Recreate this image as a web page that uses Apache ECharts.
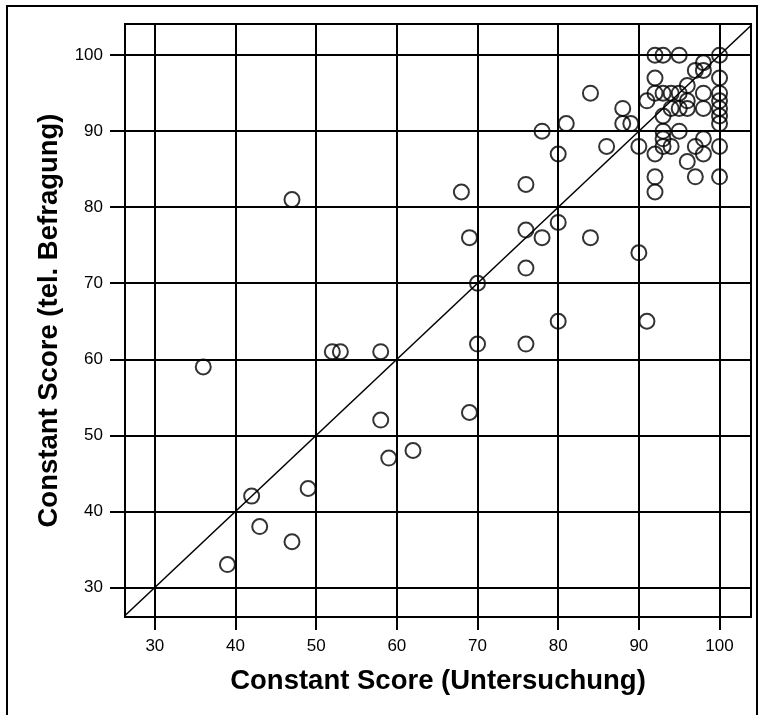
<!DOCTYPE html>
<html>
<head>
<meta charset="utf-8">
<script src="https://cdn.jsdelivr.net/npm/echarts@6/dist/echarts.min.js"></script>
<style>
  html, body { margin: 0; padding: 0; background: #fff; }
  #chart { width: 760px; height: 715px; }
</style>
</head>
<body>
<div id="chart"></div>
<script>
// Constant Score measured at examination (x) vs. by telephone interview (y)
const untersuchung = [
  36, 39, 42, 43, 47, 47, 49, 52, 53, 58, 58, 59, 62,
  68, 69, 69, 70, 70, 76, 76, 76, 76, 78, 78, 80, 80, 80,
  81, 84, 84, 86, 88, 88, 89, 90, 90, 91,
  92, 93, 95, 100, 98, 97, 98, 92, 100, 96,
  92, 93, 94, 95, 98, 100,
  91, 96, 100,
  94, 95, 96, 98, 100,
  93, 100, 100,
  93, 95, 93, 98, 93, 94, 97, 100,
  92, 98, 96,
  92, 97, 100, 92
];
const befragung = [
  59, 33, 42, 38, 36, 81, 43, 61, 61, 61, 52, 47, 48,
  82, 76, 53, 70, 62, 83, 77, 72, 62, 90, 76, 87, 78, 65,
  91, 95, 76, 88, 93, 91, 91, 88, 74, 65,
  100, 100, 100, 100, 99, 98, 98, 97, 97, 96,
  95, 95, 95, 95, 95, 95,
  94, 94, 94,
  93, 93, 93, 93, 93,
  92, 92, 91,
  90, 90, 89, 89, 88, 88, 88, 88,
  87, 87, 86,
  84, 84, 84, 82
];
const tickValues = [30, 40, 50, 60, 70, 80, 90, 100];
const xRange = [26.3, 103.9];
const yRange = [26.1, 104.1];
const identityLine = [26, 104];

const chart = echarts.init(document.getElementById('chart'), null, { renderer: 'canvas' });
const font = 'Liberation Sans, Arial, Helvetica, sans-serif';

const option = {
  animation: false,
  backgroundColor: '#ffffff',
  textStyle: { fontFamily: font, color: '#000' },
  graphic: [{
    type: 'rect',
    silent: true,
    shape: { x: 7, y: 6, width: 750, height: 800 },
    style: { fill: 'none', stroke: '#000', lineWidth: 2 }
  }],
  grid: {
    left: 125, right: 9, top: 24, bottom: 98,
    show: true, borderColor: '#000', borderWidth: 2, backgroundColor: 'transparent'
  },
  xAxis: {
    type: 'value', min: xRange[0], max: xRange[1], splitNumber: 8,
    name: 'Constant Score (Untersuchung)', nameLocation: 'middle', nameGap: 50,
    nameTextStyle: { fontSize: 27.5, fontWeight: 'bold', color: '#000', fontFamily: font },
    axisLine: { show: true, onZero: false, lineStyle: { color: '#000', width: 2 } },
    axisTick: { show: true, length: 13, lineStyle: { color: '#000', width: 2 }, customValues: tickValues },
    axisLabel: { fontSize: 17, color: '#000', margin: 21, fontFamily: font, customValues: tickValues },
    splitLine: { show: true, lineStyle: { color: '#000', width: 2 } }
  },
  yAxis: {
    type: 'value', min: yRange[0], max: yRange[1], splitNumber: 8,
    name: 'Constant Score (tel. Befragung)', nameLocation: 'middle', nameGap: 61,
    nameTextStyle: { fontSize: 27.5, fontWeight: 'bold', color: '#000', fontFamily: font },
    axisLine: { show: true, onZero: false, lineStyle: { color: '#000', width: 2 } },
    axisTick: { show: true, length: 15, lineStyle: { color: '#000', width: 2 }, customValues: tickValues },
    axisLabel: { fontSize: 17, color: '#000', margin: 22, fontFamily: font, customValues: tickValues },
    splitLine: { show: true, lineStyle: { color: '#000', width: 2 } }
  },
  series: [
    {
      type: 'line',
      data: [[identityLine[0], identityLine[0]], [identityLine[1], identityLine[1]]],
      showSymbol: false,
      symbol: 'none',
      clip: true,
      silent: true,
      lineStyle: { color: '#000', width: 1.5 },
      z: 2
    },
    {
      type: 'scatter',
      data: untersuchung.map((x, i) => [x, befragung[i]]),
      symbol: 'circle',
      symbolSize: [15, 15],
      itemStyle: { color: 'rgba(0,0,0,0)', borderColor: '#000', borderWidth: 2 },
      z: 3
    }
  ]
};
chart.setOption(option);
</script>
</body>
</html>
